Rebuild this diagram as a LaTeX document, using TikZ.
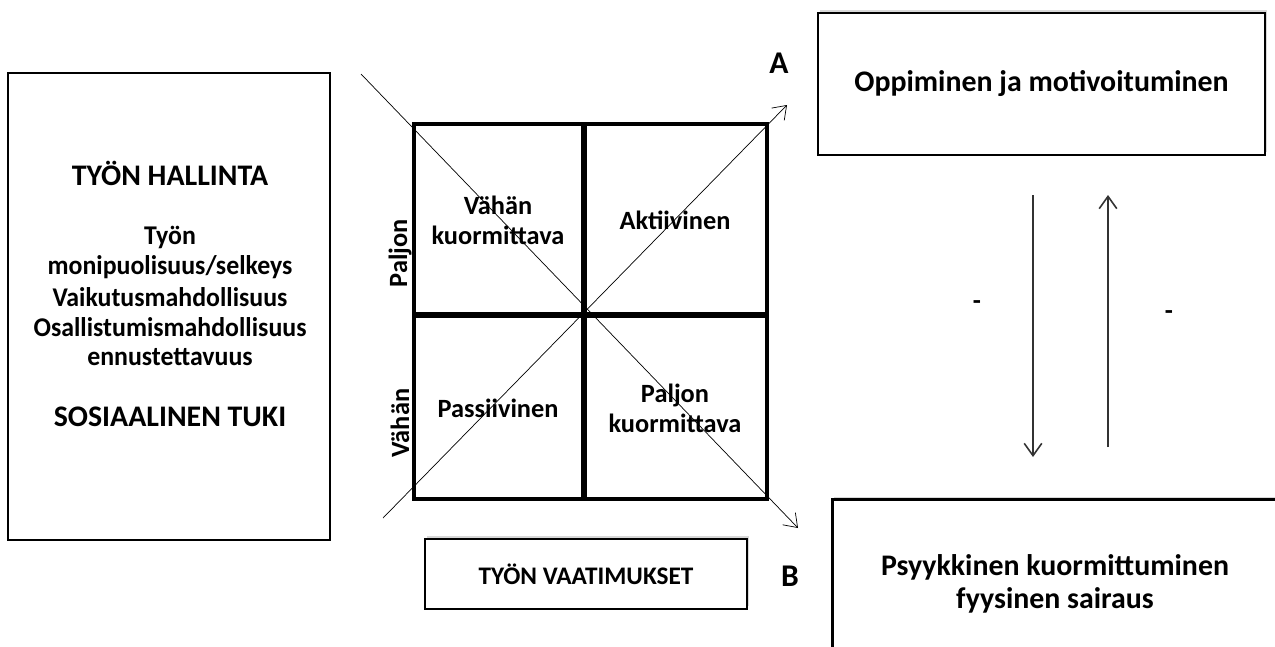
\documentclass[tikz,border=0pt]{standalone}
\usepackage{fontspec}
\setmainfont{Carlito}
\newfontfamily\kapea[FakeStretch=0.955]{Carlito}
\usetikzlibrary{arrows.meta,shadows}

\tikzset{
	box/.style={draw, line width=1.6pt, fill=white, drop shadow={shadow xshift=1pt, shadow yshift=1.5pt, opacity=0.3}},
	lbl/.style={font=\kapea\bfseries\fontsize{15.4}{17}\selectfont, align=center},
	quad/.style={font=\bfseries\fontsize{15}{17}\selectfont, align=center},
	big/.style={font=\bfseries\fontsize{17}{18}\selectfont, align=center},
}

\begin{document}
\begin{tikzpicture}[x=0.02cm, y=-0.02cm]
	\clip (0,0) rectangle (1275,646);
	\fill[white] (0,0) rectangle (1275,646);
	
	\node[draw, line width=1.6pt, minimum width=322*0.02cm, minimum height=467*0.02cm] (hallinta) at (169,306.5) {};
	\node[big] (otsikko) at (170,173) {TYÖN HALLINTA};
	\node[lbl] (r1) at (170,237) {Työn};
	\node[lbl] (r2) at (170,267) {monipuolisuus/selkeys};
	\node[lbl] (r3) at (170,297) {Vaikutusmahdollisuus};
	\node[lbl] (r4) at (170,327) {Osallistumismahdollisuus};
	\node[lbl] (r5) at (170,357) {ennustettavuus};
	\node[big] (tuki) at (170,417) {SOSIAALINEN TUKI};
	
	\draw[line width=1.8pt] (414,124) rectangle (767,499);
	\draw[line width=3pt] (584,124) -- (584,499);
	\draw[line width=3pt] (414,315) -- (767,315);
	
	\coordinate (d1) at (361,74);
	\coordinate (B1) at (798,528);
	\coordinate (d2) at (383,518);
	\coordinate (A1) at (787,105);
	\draw[thin, -{Straight Barb[length=7pt, width=10pt]}] (d1) -- (B1);
	\draw[thin, -{Straight Barb[length=7pt, width=10pt]}] (d2) -- (A1);
	
	\node[quad] (vk) at (498,220) {Vähän\\kuormittava};
	\node[quad] (akt) at (675,220) {Aktiivinen};
	\node[quad] (pas) at (498,408) {Passiivinen};
	\node[quad] (pk) at (675,408) {Paljon\\kuormittava};
	\node[quad, rotate=90] (paljon) at (400,253) {Paljon};
	\node[quad, rotate=90] (vahan) at (400,423) {Vähän};
	
	\node[box, minimum width=322*0.02cm, minimum height=70*0.02cm] (vaatimukset) at (586,574) {};
	\node[font=\bfseries\fontsize{14.4}{16}\selectfont] at (vaatimukset) {TYÖN VAATIMUKSET};
	
	\node[font=\bfseries\fontsize{18}{20}\selectfont] (A) at (779,63) {A};
	\node[font=\bfseries\fontsize{18}{20}\selectfont] (B) at (790,576) {B};
	
	\node[box, minimum width=447*0.02cm, minimum height=142*0.02cm] (oppiminen) at (1041.5,84) {};
	\node[big] at (oppiminen) {Oppiminen ja motivoituminen};
	
	\node[box, minimum width=480*0.02cm, minimum height=220*0.02cm, anchor=north west] (kuorma) at (831,498) {};
	\node[big, font=\bfseries\fontsize{17}{18.5}\selectfont] (kuormateksti) at (1055,584) {Psyykkinen kuormittuminen\\fyysinen sairaus};
	
	\coordinate (a1) at (1033,195);
	\coordinate (a2) at (1033,457);
	\coordinate (b1) at (1108,447);
	\coordinate (b2) at (1108,195);
	\draw[line width=0.9pt, black!80, -{Straight Barb[length=7pt, width=10pt]}] (a1) -- (a2);
	\draw[line width=0.9pt, black!80, -{Straight Barb[length=7pt, width=10pt]}] (b1) -- (b2);
	\node[quad] (m1) at (977,305) {-};
	\node[quad] (m2) at (1169,315) {-};
\end{tikzpicture}
\end{document}
